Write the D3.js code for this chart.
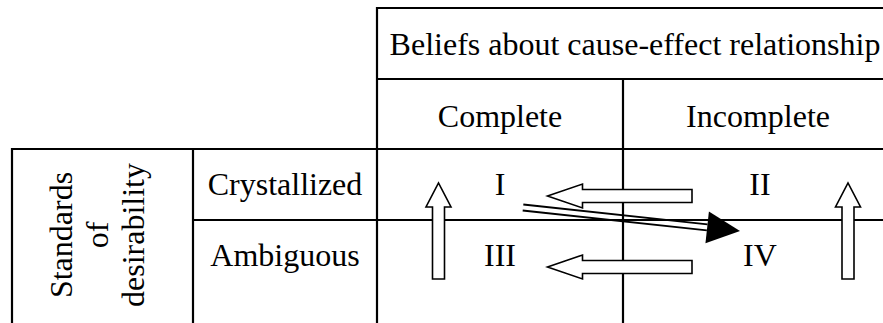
<!DOCTYPE html>
<html>
<head>
<meta charset="utf-8">
<script src="https://cdn.jsdelivr.net/npm/d3@7"></script>
<style>
  body { margin: 0; background: #fff; }
  svg text {
    font-family: "Liberation Serif", "Times New Roman", serif;
    font-size: 32px;
    fill: #000;
  }
</style>
</head>
<body>
<script>
const width = 883;
const height = 323;

// table content
const headerTitle = "Beliefs about cause-effect relationship";
const beliefColumns = ["Complete", "Incomplete"];
const standardRows = ["Crystallized", "Ambiguous"];
const sideTitle = ["Standards", "of", "desirability"];
const quadrantIds = ["I", "II", "III", "IV"];

// moves between quadrants
const horizontalMoves = [
  { from: "II", to: "I" },
  { from: "IV", to: "III" },
];
const verticalMoves = [
  { from: "III", to: "I" },
  { from: "IV", to: "II" },
];
const diagonalMoves = [{ from: "I", to: "IV" }];

const quadrants = quadrantIds.map((id, i) => ({
  id,
  col: i % 2,
  row: Math.floor(i / 2),
}));
const quad = (id) => quadrants.find((q) => q.id === id);

// column / row edges: -2,-1 are the stub columns and header rows
const x = d3.scaleLinear().domain([-2, -1, 0, 1, 2]).range([12, 193, 377, 623, 893]);
const y = d3.scaleLinear().domain([-2, -1, 0, 1, 2]).range([8, 79, 149, 220, 291]);

const cx = (q) => x(q.col + 0.5);
const cy = (q) => y(q.row + 0.5);

const svg = d3
  .select("body")
  .append("svg")
  .attr("width", width)
  .attr("height", height);

// grid
const hLines = [
  { at: -2, from: 0, to: 2 },
  { at: -1, from: 0, to: 2 },
  { at: 0, from: -2, to: 2 },
  { at: 1, from: -1, to: 2 },
];
const vLines = [
  { at: -2, from: 0 },
  { at: -1, from: 0 },
  { at: 0, from: -2 },
  { at: 1, from: -1 },
];

const grid = svg.append("g").attr("stroke", "#000").attr("stroke-width", 2.2);

grid
  .selectAll("line.h")
  .data(hLines)
  .join("line")
  .attr("class", "h")
  .attr("x1", (d) => x(d.from) - 1)
  .attr("x2", (d) => x(d.to))
  .attr("y1", (d) => y(d.at))
  .attr("y2", (d) => y(d.at));

grid
  .selectAll("line.v")
  .data(vLines)
  .join("line")
  .attr("class", "v")
  .attr("x1", (d) => x(d.at))
  .attr("x2", (d) => x(d.at))
  .attr("y1", (d) => y(d.from) - 1)
  .attr("y2", height + 5);

// header texts
svg
  .append("text")
  .attr("x", (x(0) + x(2)) / 2)
  .attr("y", y(-1.5))
  .attr("dy", "0.36em")
  .attr("text-anchor", "middle")
  .text(headerTitle);

svg
  .selectAll("text.col")
  .data(beliefColumns)
  .join("text")
  .attr("class", "col")
  .attr("x", (d, i) => x(i + 0.5))
  .attr("y", y(-0.5))
  .attr("dy", "0.4em")
  .attr("text-anchor", "middle")
  .text((d) => d);

svg
  .selectAll("text.row")
  .data(standardRows)
  .join("text")
  .attr("class", "row")
  .attr("x", x(-0.5))
  .attr("y", (d, i) => y(i + 0.5))
  .attr("dy", "0.33em")
  .attr("text-anchor", "middle")
  .text((d) => d);

svg
  .append("text")
  .attr("transform", `translate(${x(-1.5)}, 235) rotate(-90)`)
  .attr("text-anchor", "middle")
  .selectAll("tspan")
  .data(sideTitle)
  .join("tspan")
  .attr("x", 0)
  .attr("y", (d, i) => (i - 1) * 36 + 5)
  .text((d) => d);

// block arrow drawn along x then rotated into place
function blockArrow(x1, y1, x2, y2, shaft, head, headLen) {
  const len = Math.hypot(x2 - x1, y2 - y1);
  const a = (Math.atan2(y2 - y1, x2 - x1) * 180) / Math.PI;
  const p = d3.path();
  p.moveTo(0, -shaft);
  p.lineTo(len - headLen, -shaft);
  p.lineTo(len - headLen, -head);
  p.lineTo(len, 0);
  p.lineTo(len - headLen, head);
  p.lineTo(len - headLen, shaft);
  p.lineTo(0, shaft);
  p.closePath();
  return { d: p.toString(), transform: `translate(${x1},${y1}) rotate(${a})` };
}

const arrows = svg
  .append("g")
  .attr("fill", "#fff")
  .attr("stroke", "#000")
  .attr("stroke-width", 1.6)
  .attr("stroke-linejoin", "miter");

arrows
  .selectAll("path.hmove")
  .data(horizontalMoves)
  .join("path")
  .attr("class", "hmove")
  .each(function (d) {
    const a = quad(d.from);
    const yy = cy(a) + 11.5;
    const mid = x(1);
    const arr = blockArrow(mid + 69, yy, mid - 75.5, yy, 6.5, 12, 35);
    d3.select(this).attr("d", arr.d).attr("transform", arr.transform);
  });

const upOffset = [61.5, 225];
arrows
  .selectAll("path.vmove")
  .data(verticalMoves)
  .join("path")
  .attr("class", "vmove")
  .each(function (d) {
    const a = quad(d.from);
    const xx = x(a.col) + upOffset[a.col];
    const arr = blockArrow(xx, y(1) + 59, xx, y(0) + 34, 6, 12.5, 24);
    d3.select(this).attr("d", arr.d).attr("transform", arr.transform);
  });

// double-line arrow with solid head
const diag = svg.append("g");
diagonalMoves.forEach((m) => {
  const a = quad(m.from);
  const b = quad(m.to);
  const x1 = cx(a) + 23;
  const y1 = cy(a) + 23;
  const x2 = cx(b) - 18;
  const y2 = cy(b) - 24.5;
  const len = Math.hypot(x2 - x1, y2 - y1);
  const ux = (x2 - x1) / len;
  const uy = (y2 - y1) / len;
  const nx = -uy;
  const ny = ux;
  const headLen = 33;
  const bx = x2 - headLen * ux;
  const by = y2 - headLen * uy;

  diag
    .selectAll(null)
    .data([-3, 3])
    .join("line")
    .attr("x1", (o) => x1 + o * nx)
    .attr("y1", (o) => y1 + o * ny)
    .attr("x2", (o) => bx + o * nx)
    .attr("y2", (o) => by + o * ny)
    .attr("stroke", "#000")
    .attr("stroke-width", 1.8);

  diag
    .append("path")
    .attr(
      "d",
      d3.line()([
        [x2, y2],
        [bx + 16 * nx, by + 16 * ny],
        [bx - 16 * nx, by - 16 * ny],
      ]) + "Z"
    )
    .attr("fill", "#000");
});

// quadrant numerals
svg
  .selectAll("text.quad")
  .data(quadrants)
  .join("text")
  .attr("class", "quad")
  .attr("x", (d) => cx(d) + (d.col === 1 ? 2 : 0))
  .attr("y", (d) => cy(d))
  .attr("dy", "0.33em")
  .attr("text-anchor", "middle")
  .text((d) => d.id);
</script>
</body>
</html>
